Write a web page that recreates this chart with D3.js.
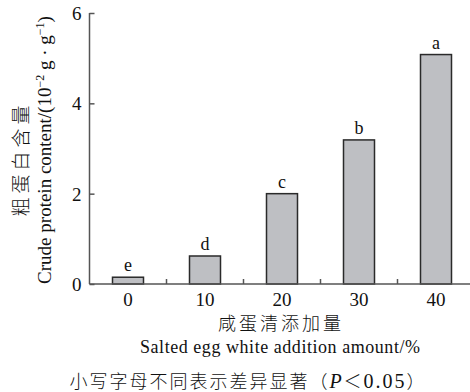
<!DOCTYPE html>
<html>
<head>
<meta charset="utf-8">
<script src="https://cdn.jsdelivr.net/npm/d3@7"></script>
<style>
  body { margin: 0; background: #fff; }
  text { fill: #111; }
</style>
</head>
<body>
<div id="chart"></div>
<script>
// data
var categories = ["0", "10", "20", "30", "40"];
var proteinValues = [0.15, 0.62, 2.0, 3.19, 5.08];
var sigLetters = ["e", "d", "c", "b", "a"];
var yTicks = [0, 2, 4, 6];

var svgWidth = 470, svgHeight = 392;
var serif = "'Liberation Serif', 'DejaVu Serif', serif";
var cjk = "'Noto Sans CJK SC', sans-serif";

var svg = d3.select("#chart")
    .append("svg")
    .attr("width", svgWidth)
    .attr("height", svgHeight);

// plot area
var plotLeft = 89.5, plotRight = 474.5, plotTop = 13, plotBottom = 284;

var xScale = d3.scaleBand()
    .domain(categories)
    .range([plotLeft, plotRight])
    .padding(0);

var yScale = d3.scaleLinear()
    .domain([0, 6])
    .range([plotBottom, plotTop]);

var barWidth = 31;

// bars
svg.selectAll("rect.bar")
    .data(proteinValues)
    .enter()
    .append("rect")
    .attr("class", "bar")
    .attr("x", (d, i) => xScale(categories[i]) + xScale.bandwidth() / 2 - barWidth / 2)
    .attr("y", d => yScale(d))
    .attr("width", barWidth)
    .attr("height", d => plotBottom - yScale(d))
    .attr("fill", "#bebfc3")
    .attr("stroke", "#2a2a2a")
    .attr("stroke-width", 1.5);

// significance letters
svg.selectAll("text.sig")
    .data(proteinValues)
    .enter()
    .append("text")
    .attr("class", "sig")
    .attr("x", (d, i) => xScale(categories[i]) + xScale.bandwidth() / 2)
    .attr("y", d => yScale(d) - 6)
    .attr("text-anchor", "middle")
    .style("font-family", serif)
    .style("font-size", "18px")
    .text((d, i) => sigLetters[i]);

// y axis (ticks point inward)
var yAxis = d3.axisRight(yScale).tickValues(yTicks).tickSize(5).tickSizeOuter(0).tickFormat(d3.format("d"));
var yG = svg.append("g")
    .attr("transform", `translate(${plotLeft},0)`)
    .call(yAxis);
yG.select(".domain").attr("stroke", "#555").attr("stroke-width", 1.5).attr("d", `M0,${plotTop}V${plotBottom}`);
yG.selectAll(".tick line").attr("stroke", "#555").attr("stroke-width", 1.5);
yG.selectAll(".tick text")
    .attr("x", -8)
    .attr("text-anchor", "end")
    .attr("dy", "0.34em")
    .style("font-family", serif)
    .style("font-size", "19px")
    .style("fill", "#111");

// x axis line, category labels, and inward boundary ticks
svg.append("line")
    .attr("x1", plotLeft).attr("x2", 470)
    .attr("y1", plotBottom).attr("y2", plotBottom)
    .attr("stroke", "#555").attr("stroke-width", 1.5);

svg.selectAll("line.xtick")
    .data(categories.slice(1))
    .enter()
    .append("line")
    .attr("class", "xtick")
    .attr("x1", d => xScale(d)).attr("x2", d => xScale(d))
    .attr("y1", plotBottom).attr("y2", plotBottom - 5)
    .attr("stroke", "#555").attr("stroke-width", 1.5);

svg.selectAll("text.xlab")
    .data(categories)
    .enter()
    .append("text")
    .attr("class", "xlab")
    .attr("x", d => xScale(d) + xScale.bandwidth() / 2)
    .attr("y", 306)
    .attr("text-anchor", "middle")
    .style("font-family", serif)
    .style("font-size", "19px")
    .text(d => d);

// x axis titles
svg.append("text")
    .attr("x", 281).attr("y", 330)
    .attr("text-anchor", "middle")
    .style("font-family", cjk)
    .style("font-size", "18px")
    .style("letter-spacing", "3px")
    .style("font-weight", 300)
    .text("咸蛋清添加量");

svg.append("text")
    .attr("x", 280).attr("y", 353)
    .attr("text-anchor", "middle")
    .style("font-family", serif)
    .style("font-size", "18px")
    .attr("textLength", 280)
    .text("Salted egg white addition amount/%");

// caption
var cap = svg.append("text")
    .attr("x", 248).attr("y", 388)
    .attr("text-anchor", "middle")
    .style("font-family", cjk)
    .style("font-size", "18px")
    .style("font-weight", 300)
    .style("letter-spacing", "2px");
cap.append("tspan").text("小写字母不同表示差异显著（");
cap.append("tspan").style("font-family", serif).style("font-style", "italic").style("font-size", "20px").text("P");
cap.append("tspan").text("＜");
cap.append("tspan").style("font-family", serif).style("font-size", "20px").text("0.05");
cap.append("tspan").text("）");

// y axis titles (rotated)
svg.append("text")
    .attr("transform", "translate(28,159) rotate(-90)")
    .attr("text-anchor", "middle")
    .style("font-family", cjk)
    .style("font-size", "19px")
    .style("font-weight", 300)
    .style("letter-spacing", "4px")
    .style("fill", "#111")
    .text("粗蛋白含量");

var yt = svg.append("text")
    .attr("transform", "translate(51,150) rotate(-90)")
    .attr("text-anchor", "middle")
    .style("font-family", serif)
    .style("font-size", "19px");
yt.append("tspan").text("Crude protein content/(10");
yt.append("tspan").attr("dy", -7).style("font-size", "12px").text("−2");
yt.append("tspan").attr("dy", 7).text(" g · g");
yt.append("tspan").attr("dy", -7).style("font-size", "12px").text("−1");
yt.append("tspan").attr("dy", 7).text(")");
</script>
</body>
</html>
